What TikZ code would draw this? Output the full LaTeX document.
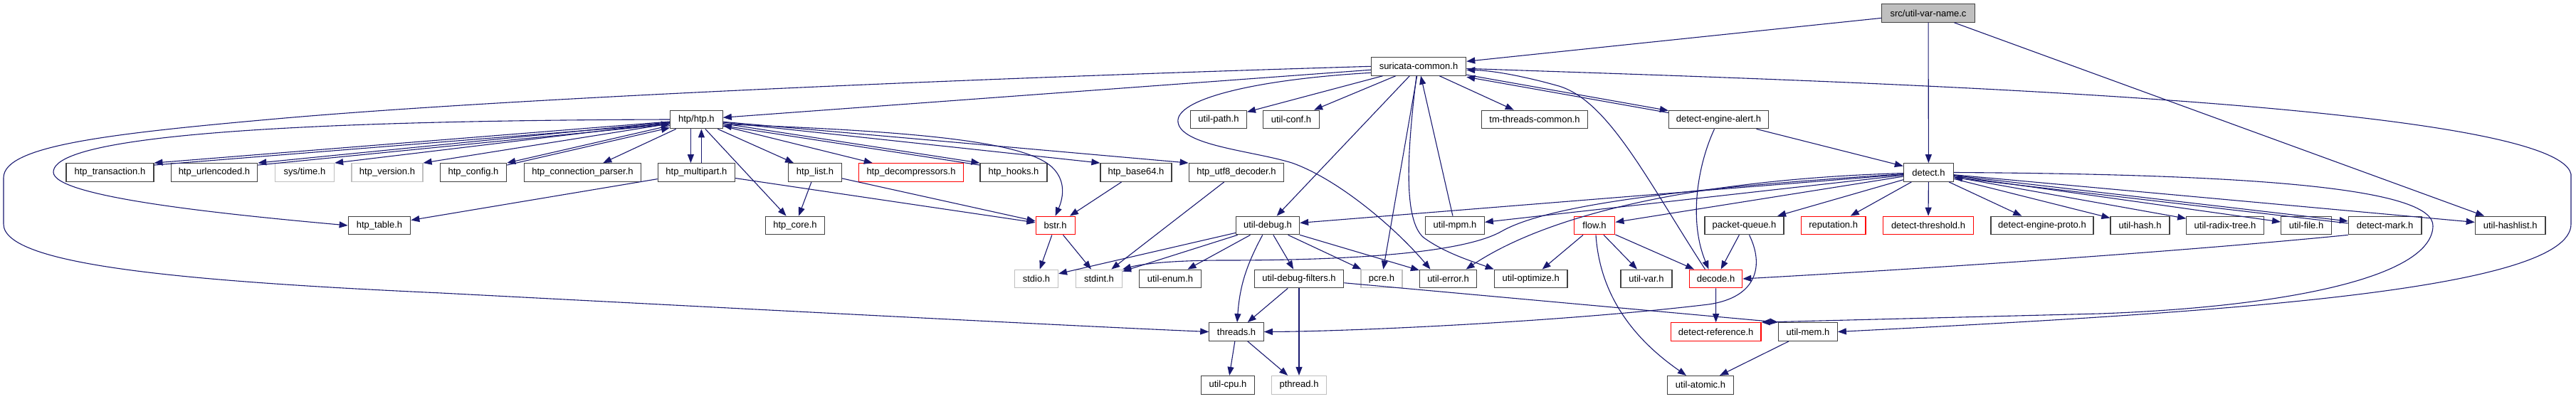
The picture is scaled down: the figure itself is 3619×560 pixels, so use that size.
\documentclass[tikz,border=0pt]{standalone}
\usepackage{fontspec}
\setmainfont{Liberation Sans}
\usetikzlibrary{arrows.meta}
\definecolor{incblue}{RGB}{25,25,112}

\begin{document}
\begin{tikzpicture}[x=1pt, y=-1pt, >={Triangle[length=12pt, width=9pt]},
  hdr/.style={rectangle, draw=black!75, line width=1.2pt, fill=white, minimum height=25.6pt,
    inner xsep=3pt, inner ysep=0pt, font=\fontsize{13}{15}\selectfont, minimum width=#1},
  hdr/.default=80pt,
  syshdr/.style={hdr=#1, draw=black!25},
  syshdr/.default=80pt,
  cuthdr/.style={hdr=#1, draw=red},
  cuthdr/.default=80pt,
  rootfile/.style={hdr=#1, fill=black!25},
  inc/.style={->, line width=1.1pt, draw=incblue},
  incback/.style={inc, transform canvas={yshift=-3pt}}
]
\useasboundingbox (0,0) rectangle (3619,560);
% nodes, row by row
\node[rootfile=130.5pt] (uvn) at (2709,18.5) {src/util-var-name.c};
\node[hdr=133.3pt] (sc) at (1993,93.3) {suricata-common.h};
\node[hdr=73.6pt] (htp) at (978.4,168) {htp/htp.h};
\node[hdr=78.7pt] (upath) at (1712,168) {util-path.h};
\node[hdr=78.8pt] (uconf) at (1814,168) {util-conf.h};
\node[hdr=149.6pt] (tmtc) at (2156,168) {tm-threads-common.h};
\node[hdr=140.1pt] (dea) at (2414.5,168) {detect-engine-alert.h};
\node[hdr=123pt] (htptx) at (154.4,242.5) {htp\_transaction.h};
\node[hdr=121.4pt] (htpurl) at (301,242.5) {htp\_urlencoded.h};
\node[syshdr=83.1pt] (systime) at (428,242.5) {sys/time.h};
\node[syshdr=100pt] (htpver) at (544,242.5) {htp\_version.h};
\node[hdr=93.3pt] (htpcfg) at (665,242.5) {htp\_config.h};
\node[hdr=164.1pt] (htpconn) at (818.5,242.5) {htp\_connection\_parser.h};
\node[hdr=108.4pt] (htpmp) at (978.4,242.5) {htp\_multipart.h};
\node[hdr=74.7pt] (htplist) at (1145,242.5) {htp\_list.h};
\node[cuthdr=146.3pt] (htpdec) at (1280,242.5) {htp\_decompressors.h};
\node[hdr=93.9pt] (htphooks) at (1424,242.5) {htp\_hooks.h};
\node[hdr=100pt] (htpb64) at (1596,242.5) {htp\_base64.h};
\node[hdr=133.6pt] (htputf8) at (1737,242.5) {htp\_utf8\_decoder.h};
\node[hdr=70pt] (det) at (2709.4,242.5) {detect.h};
\node[hdr=87.5pt] (htptab) at (533,317) {htp\_table.h};
\node[hdr=83.4pt] (htpcore) at (1117,317) {htp\_core.h};
\node[cuthdr=55pt] (bstr) at (1482.6,317) {bstr.h};
\node[hdr=89.1pt] (udebug) at (1781,317) {util-debug.h};
\node[hdr=82.5pt] (umpm) at (2044,317) {util-mpm.h};
\node[cuthdr=57.6pt] (flow) at (2240,317) {flow.h};
\node[hdr=111pt] (pq) at (2450.5,317) {packet-queue.h};
\node[cuthdr=90.5pt] (rep) at (2575.7,317) {reputation.h};
\node[cuthdr=126.5pt] (dthr) at (2709,317) {detect-threshold.h};
\node[hdr=144pt] (deproto) at (2869,317) {detect-engine-proto.h};
\node[hdr=83pt] (uhash) at (3006.5,317) {util-hash.h};
\node[hdr=108.4pt] (urdx) at (3126,317) {util-radix-tree.h};
\node[hdr=70.7pt] (ufile) at (3240,317) {util-file.h};
\node[hdr=102.6pt] (dmark) at (3350.6,317) {detect-mark.h};
\node[hdr=98.7pt] (uhl) at (3526.7,317) {util-hashlist.h};
\node[syshdr=60.9pt] (stdio) at (1456,392) {stdio.h};
\node[syshdr=64.8pt] (stdint) at (1544,392) {stdint.h};
\node[hdr=86.6pt] (uenum) at (1644,392) {util-enum.h};
\node[hdr=125.5pt] (udf) at (1825,392) {util-debug-filters.h};
\node[syshdr=58.1pt] (pcre) at (1941,392) {pcre.h};
\node[hdr=79.9pt] (uerr) at (2034.5,392) {util-error.h};
\node[hdr=102.7pt] (uopt) at (2150.7,392) {util-optimize.h};
\node[hdr=71.9pt] (uvar) at (2313,392) {util-var.h};
\node[cuthdr=74.5pt] (decode) at (2410.5,392) {decode.h};
\node[hdr=76.3pt] (thr) at (1737,466.5) {threads.h};
\node[cuthdr=126.7pt] (dref) at (2410.7,466.5) {detect-reference.h};
\node[hdr=82.5pt] (umem) at (2540,466.5) {util-mem.h};
\node[hdr=74.7pt] (ucpu) at (1725,541.3) {util-cpu.h};
\node[syshdr=76.3pt] (pthr) at (1825,541.3) {pthread.h};
\node[hdr=93.5pt] (uatom) at (2389,541.3) {util-atomic.h};

% source file
\draw[inc] (uvn) -- (sc);
\draw[inc] (uvn) -- (det);
\draw[inc] (uvn) -- (uhl);

% suricata-common.h
\draw[inc] (sc) -- (htp);
\draw[inc] (sc.west) .. controls (1300,112) and (700,140) .. (400,166) .. controls (150,188) and (5,205) .. (5,250) -- (5,315) .. controls (5,372) and (250,395) .. (620,412) .. controls (1100,437) and (1500,458) .. (thr.west);
\draw[inc] (sc) -- (upath);
\draw[inc] (sc) -- (uconf);
\draw[inc] (sc) -- (udebug);
\draw[inc] (sc) -- (pcre);
\draw[inc] ([xshift=-3pt]sc.south) .. controls (1976,220) and (1972,310) .. (2000,334) .. controls (2030,356) and (2070,368) .. (uopt.north west);
\draw[inc] (sc) -- (tmtc);
\draw[inc] (sc) -- (dea);
\draw[incback] (dea) -- (sc);
\draw[inc] (umpm) -- (sc);
\draw[inc] ([yshift=-9pt]sc.west) .. controls (1760,112) and (1650,140) .. (1655,172) .. controls (1660,205) and (1760,212) .. (1815,229) .. controls (1880,252) and (1960,320) .. ([xshift=-25pt]uerr.north);
\draw[inc] ([yshift=-3pt]sc.east) .. controls (2500,112) and (3590,140) .. (3612,245) -- (3612,315) .. controls (3612,410) and (3100,440) .. (umem.east);
\draw[inc] ([xshift=-15pt]decode.north) .. controls (2315,255) and (2260,142) .. (2190,121) .. controls (2130,104) and (2090,99) .. ([yshift=-5pt]sc.east);

% htp/htp.h
\draw[inc] (htp) -- (htptx.north east);
\draw[incback] (htptx.north east) -- (htp);
\draw[inc] (htp) -- (htpurl.north east);
\draw[incback] (htpurl.north east) -- (htp);
\draw[inc] (htp) -- (systime.north east);
\draw[inc] (htp) -- (htpver.north east);
\draw[inc] (htp) -- (htpcfg.north east);
\draw[incback] (htpcfg.north east) -- (htp);
\draw[inc] (htp) -- (htpconn);
\draw[inc, transform canvas={xshift=-8pt}] (htp) -- (htpmp);
\draw[inc, transform canvas={xshift=7pt}] (htpmp) -- (htp);
\draw[inc] (htp) -- (htplist);
\draw[inc] (htp) -- (htpdec);
\draw[inc] (htp) -- (htphooks.north west);
\draw[incback] (htphooks.north west) -- (htp);
\draw[inc] (htp) -- (htpb64.north west);
\draw[inc] (htp) -- (htputf8.north west);
\draw[inc] (htp.350) .. controls (1300,185) and (1440,200) .. (1478,235) .. controls (1500,256) and (1492,282) .. (bstr.north);
\draw[inc] (htp) -- (htpcore);
\draw[inc] (htp.west) .. controls (200,170) and (75,210) .. (75,242) .. controls (75,276) and (300,300) .. (htptab.west);
\draw[inc] (htpmp) -- (htptab);
\draw[inc] (htpmp) -- (bstr);
\draw[inc] (htplist) -- (htpcore);
\draw[inc] (htplist) -- (bstr);
\draw[inc] (htpb64) -- (bstr);
\draw[inc] (htputf8) -- (stdint);
\draw[inc] (bstr) -- (stdio);
\draw[inc] (bstr) -- (stdint);

% util-debug.h
\draw[inc] (udebug) -- (stdio);
\draw[inc] (udebug) -- (stdint);
\draw[inc] (udebug) -- (uenum);
\draw[inc] (udebug) to[bend right=12] (thr);
\draw[inc] (udebug) -- (udf);
\draw[inc] (udebug) -- (pcre);
\draw[inc] (udebug) -- (uerr);
\draw[inc] (udf) -- (thr);
\draw[inc] (udf) -- (pthr);
\draw[inc] (udf) -- (umem.north west);
\draw[inc] (thr) -- (ucpu);
\draw[inc] (thr) -- (pthr);

% detect.h
\draw[inc] (det) -- (udebug);
\draw[inc] (det) -- (umpm);
\draw[inc] (det) -- (flow);
\draw[inc] (det) .. controls (2450,250) and (2200,285) .. ([xshift=25pt]uerr.north);
\draw[inc] (det) .. controls (2400,262) and (2180,285) .. (2110,325) .. controls (2070,348) and (1960,366) .. (1720,366) .. controls (1640,366) and (1600,372) .. (stdint.north east);
\draw[inc] (det) -- (pq);
\draw[inc] (det) -- (rep);
\draw[inc] (det) -- (dthr);
\draw[inc] (det) -- (deproto);
\draw[inc] (det) -- (uhash);
\draw[inc] (det) -- (urdx);
\draw[inc] (det) -- (ufile);
\draw[inc] (det) -- (dmark);
\draw[incback] (dmark) -- (det);
\draw[inc] (det) -- (uhl);
\draw[inc] (det.east) .. controls (3200,245) and (3420,268) .. (3418,318) .. controls (3416,392) and (3200,432) .. (2950,441) -- (dref.north east);

% the rest
\draw[inc] (dea) -- (det);
\draw[inc] ([xshift=-6pt]dea.south) .. controls (2385,232) and (2372,310) .. ([xshift=-10pt]decode.north);
\draw[inc] (flow) -- (uopt);
\draw[inc] (flow) -- (uvar);
\draw[inc] (flow) -- (decode);
\draw[inc] ([xshift=2pt]flow.south) .. controls (2248,420) and (2300,480) .. ([xshift=-20pt]uatom.north);
\draw[inc] (pq) -- (decode);
\draw[inc] ([xshift=7pt]pq.south) .. controls (2478,372) and (2470,418) .. (2400,428) .. controls (2200,452) and (1900,466) .. (thr.east);
\draw[inc] (decode) -- (dref);
\draw[inc] (dmark.south west) .. controls (3050,355) and (2700,378) .. (decode.east);
\draw[inc] (umem) -- (uatom);
\end{tikzpicture}
\end{document}
